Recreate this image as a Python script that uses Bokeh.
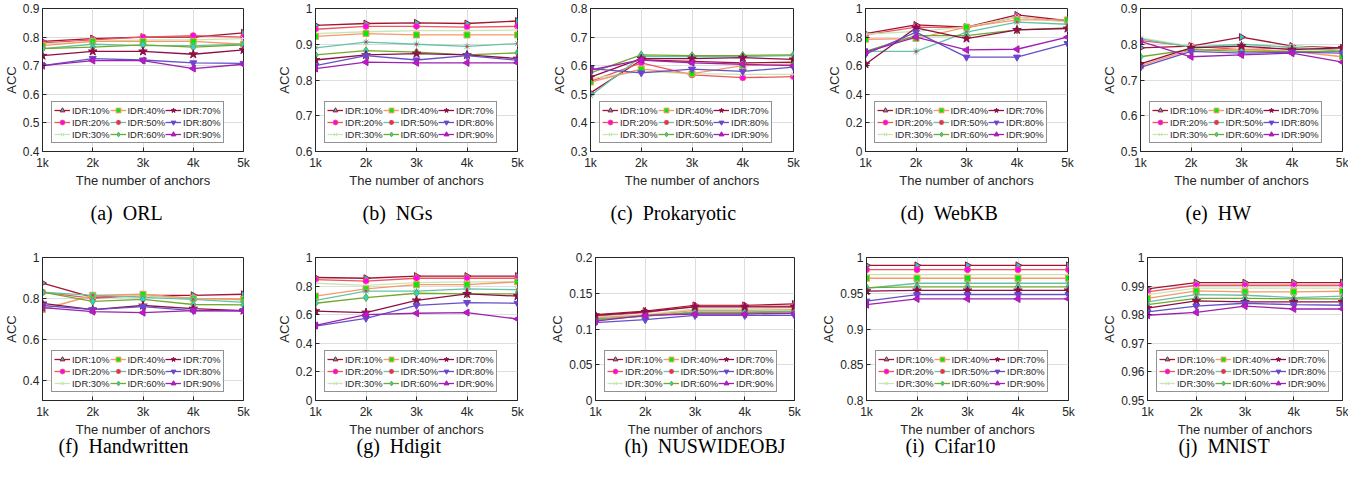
import math
from bokeh.plotting import figure
from bokeh.layouts import column, row
from bokeh.models import Range1d, FixedTicker, Legend, LegendItem, Title
from bokeh.embed import file_html
from bokeh.resources import INLINE

anchors = ["1k", "2k", "3k", "4k", "5k"]
idr_labels = ["IDR:10%", "IDR:20%", "IDR:30%", "IDR:40%", "IDR:50%",
              "IDR:60%", "IDR:70%", "IDR:80%", "IDR:90%"]

orl = [
    [0.785, 0.795, 0.800, 0.800, 0.815],
    [0.780, 0.790, 0.800, 0.805, 0.800],
    [0.775, 0.785, 0.790, 0.790, 0.795],
    [0.770, 0.785, 0.785, 0.785, 0.775],
    [0.760, 0.775, 0.770, 0.770, 0.775],
    [0.760, 0.765, 0.773, 0.765, 0.773],
    [0.735, 0.750, 0.750, 0.740, 0.755],
    [0.700, 0.725, 0.720, 0.710, 0.708],
    [0.700, 0.718, 0.718, 0.690, 0.705],
]
ngs = [
    [0.953, 0.958, 0.960, 0.958, 0.965],
    [0.942, 0.950, 0.950, 0.948, 0.950],
    [0.930, 0.935, 0.938, 0.938, 0.940],
    [0.922, 0.930, 0.926, 0.926, 0.926],
    [0.890, 0.906, 0.900, 0.894, 0.902],
    [0.870, 0.882, 0.878, 0.870, 0.876],
    [0.856, 0.870, 0.874, 0.870, 0.860],
    [0.840, 0.868, 0.856, 0.868, 0.855],
    [0.832, 0.850, 0.848, 0.848, 0.848],
]
prokaryotic = [
    [0.505, 0.620, 0.615, 0.610, 0.612],
    [0.545, 0.610, 0.568, 0.558, 0.562],
    [0.555, 0.580, 0.572, 0.570, 0.570],
    [0.543, 0.588, 0.572, 0.600, 0.605],
    [0.495, 0.632, 0.632, 0.632, 0.635],
    [0.575, 0.638, 0.635, 0.636, 0.638],
    [0.560, 0.625, 0.625, 0.628, 0.622],
    [0.590, 0.575, 0.588, 0.580, 0.595],
    [0.585, 0.620, 0.610, 0.605, 0.600],
]
webkb = [
    [0.825, 0.885, 0.870, 0.955, 0.915],
    [0.815, 0.870, 0.865, 0.940, 0.910],
    [0.820, 0.840, 0.870, 0.940, 0.905],
    [0.785, 0.790, 0.870, 0.920, 0.920],
    [0.700, 0.700, 0.835, 0.905, 0.890],
    [0.700, 0.810, 0.810, 0.850, 0.865],
    [0.610, 0.865, 0.790, 0.850, 0.860],
    [0.680, 0.835, 0.660, 0.660, 0.755],
    [0.695, 0.800, 0.710, 0.715, 0.800],
]
hw = [
    [0.790, 0.795, 0.820, 0.795, 0.790],
    [0.810, 0.795, 0.785, 0.790, 0.785],
    [0.818, 0.795, 0.790, 0.795, 0.785],
    [0.740, 0.785, 0.785, 0.780, 0.765],
    [0.815, 0.792, 0.800, 0.792, 0.780],
    [0.765, 0.785, 0.780, 0.780, 0.780],
    [0.745, 0.790, 0.795, 0.785, 0.790],
    [0.735, 0.780, 0.775, 0.778, 0.775],
    [0.808, 0.765, 0.770, 0.775, 0.750],
]
handwritten = [
    [0.875, 0.805, 0.815, 0.815, 0.820],
    [0.830, 0.800, 0.815, 0.800, 0.795],
    [0.750, 0.815, 0.815, 0.800, 0.790],
    [0.745, 0.815, 0.820, 0.800, 0.795],
    [0.830, 0.815, 0.805, 0.795, 0.780],
    [0.830, 0.785, 0.795, 0.770, 0.768],
    [0.775, 0.745, 0.765, 0.750, 0.740],
    [0.765, 0.745, 0.760, 0.740, 0.740],
    [0.755, 0.735, 0.730, 0.740, 0.738],
]
hdigit = [
    [0.860, 0.855, 0.870, 0.870, 0.870],
    [0.845, 0.835, 0.855, 0.855, 0.855],
    [0.820, 0.805, 0.825, 0.830, 0.830],
    [0.730, 0.780, 0.810, 0.810, 0.830],
    [0.700, 0.765, 0.765, 0.780, 0.775],
    [0.680, 0.720, 0.750, 0.745, 0.745],
    [0.625, 0.615, 0.700, 0.745, 0.730],
    [0.520, 0.575, 0.665, 0.685, 0.680],
    [0.525, 0.600, 0.610, 0.615, 0.570],
]
nuswideobj = [
    [0.120, 0.125, 0.133, 0.133, 0.135],
    [0.118, 0.123, 0.132, 0.132, 0.132],
    [0.117, 0.120, 0.128, 0.128, 0.130],
    [0.116, 0.119, 0.126, 0.126, 0.127],
    [0.114, 0.118, 0.124, 0.124, 0.125],
    [0.113, 0.118, 0.123, 0.123, 0.124],
    [0.119, 0.124, 0.131, 0.131, 0.131],
    [0.109, 0.113, 0.119, 0.119, 0.119],
    [0.111, 0.119, 0.121, 0.121, 0.122],
]
cifar10 = [
    [0.989, 0.989, 0.989, 0.989, 0.989],
    [0.983, 0.983, 0.983, 0.983, 0.983],
    [0.976, 0.976, 0.976, 0.976, 0.976],
    [0.971, 0.971, 0.971, 0.971, 0.971],
    [0.957, 0.964, 0.964, 0.964, 0.964],
    [0.958, 0.959, 0.959, 0.959, 0.959],
    [0.953, 0.954, 0.954, 0.954, 0.954],
    [0.939, 0.948, 0.948, 0.948, 0.948],
    [0.934, 0.942, 0.942, 0.942, 0.942],
]
mnist = [
    [0.9890, 0.9912, 0.9912, 0.9912, 0.9912],
    [0.9880, 0.9903, 0.9903, 0.9903, 0.9903],
    [0.9870, 0.9893, 0.9893, 0.9893, 0.9893],
    [0.9857, 0.9883, 0.9880, 0.9880, 0.9882],
    [0.9845, 0.9870, 0.9868, 0.9860, 0.9865],
    [0.9835, 0.9857, 0.9857, 0.9855, 0.9855],
    [0.9823, 0.9848, 0.9845, 0.9845, 0.9845],
    [0.9810, 0.9830, 0.9840, 0.9835, 0.9833],
    [0.9798, 0.9808, 0.9830, 0.9820, 0.9820],
]

captions = ["(a)\u2002ORL", "(b)\u2002NGs", "(c)\u2002Prokaryotic", "(d)\u2002WebKB", "(e)\u2002HW",
            "(f)\u2002Handwritten", "(g)\u2002Hdigit", "(h)\u2002NUSWIDEOBJ", "(i)\u2002Cifar10", "(j)\u2002MNIST"]
datasets = [orl, ngs, prokaryotic, webkb, hw, handwritten, hdigit, nuswideobj, cifar10, mnist]
y_limits = [(0.4, 0.9), (0.6, 1.0), (0.3, 0.8), (0.0, 1.0), (0.5, 0.9),
            (0.3, 1.0), (0.0, 1.0), (0.0, 0.2), (0.8, 1.0), (0.95, 1.0)]
y_tick_labels = [
    ["0.4", "0.5", "0.6", "0.7", "0.8", "0.9"],
    ["0.6", "0.7", "0.8", "0.9", "1"],
    ["0.3", "0.4", "0.5", "0.6", "0.7", "0.8"],
    ["0", "0.2", "0.4", "0.6", "0.8", "1"],
    ["0.5", "0.6", "0.7", "0.8", "0.9"],
    ["0.4", "0.6", "0.8", "1"],
    ["0", "0.2", "0.4", "0.6", "0.8", "1"],
    ["0", "0.05", "0.1", "0.15", "0.2"],
    ["0.8", "0.85", "0.9", "0.95", "1"],
    ["0.95", "0.96", "0.97", "0.98", "0.99", "1"],
]

# geometry: (width, border_left, border_right, caption_offset)
geom_row1 = [(268, 41, 25, 48), (270, 47, 21, 47), (270, 52, 15, 20), (270, 57, 11, 35), (270, 62, 6, 45)]
geom_row2 = [(268, 41, 25, 16), (270, 47, 21, 41), (270, 57, 14, 29), (270, 58, 10, 39), (270, 69, 6, 31)]

styles = [
    dict(color="#A2142F", marker="triangle", angle=-math.pi / 2, fill="#22C8D8", size=7),
    dict(color="#EE5560", marker="circle", angle=0, fill="#FF00FF", size=6),
    dict(color="#C8E6B4", marker="x", angle=0, fill=None, size=6),
    dict(color="#F7976A", marker="square", angle=0, fill="#00EE00", size=6),
    dict(color="#66C2A5", marker="asterisk", angle=0, fill=None, size=7, dot="#E8334A"),
    dict(color="#6FAA2A", marker="diamond", angle=0, fill="#22D8E0", size=8),
    dict(color="#8E0F45", marker="star", angle=0, fill="#8E0F45", size=9),
    dict(color="#6550C8", marker="inverted_triangle", angle=0, fill="#7A3CD8", size=7),
    dict(color="#9C22B0", marker="triangle", angle=math.pi / 2, fill="#CC10CC", size=7),
]

INK = "#262626"
xs = list(range(1, len(anchors) + 1))


def make_panel(k, geom, height, b_top, b_bottom, cap_standoff):
    width, bl, br, cap_off = geom
    lo, hi = y_limits[k]
    p = figure(width=width, height=height, x_range=Range1d(1, 5), y_range=Range1d(lo, hi),
               output_backend="svg", toolbar_location=None,
               min_border_left=bl, min_border_right=br,
               min_border_top=b_top, min_border_bottom=b_bottom)
    p.outline_line_color = INK
    p.outline_line_alpha = 1
    p.background_fill_color = "white"
    p.grid.grid_line_color = "#DEDEDE"
    p.grid.grid_line_width = 1
    p.xaxis.ticker = FixedTicker(ticks=xs)
    p.xaxis.major_label_overrides = {x: a for x, a in zip(xs, anchors)}
    yt = [float(s) for s in y_tick_labels[k]]
    p.yaxis.ticker = FixedTicker(ticks=yt)
    p.yaxis.major_label_overrides = {v: s for v, s in zip(yt, y_tick_labels[k])}
    p.xaxis.axis_label = "The number of anchors"
    p.yaxis.axis_label = "ACC"
    for ax in (p.xaxis, p.yaxis):
        ax.axis_line_color = INK
        ax.major_tick_in = 4
        ax.major_tick_out = 0
        ax.major_tick_line_color = INK
        ax.minor_tick_line_color = None
        ax.major_label_text_font = "Liberation Sans"
        ax.major_label_text_font_size = "12px"
        ax.major_label_text_color = INK
        ax.major_label_standoff = 4
        ax.axis_label_text_font = "Liberation Sans"
        ax.axis_label_text_font_size = "13px"
        ax.axis_label_text_font_style = "normal"
        ax.axis_label_text_color = INK
        ax.axis_label_standoff = 0
    p.yaxis.major_label_standoff = 3
    p.yaxis.axis_label_standoff = 1

    items = []
    for i, series in enumerate(datasets[k]):
        st = styles[i]
        rs = []
        rs.append(p.line(xs, series, line_color=st["color"], line_width=1.3))
        sc = p.scatter(xs, series, marker=st["marker"], angle=st["angle"], size=st["size"],
                       line_color=st["color"], line_width=1,
                       fill_color=st["fill"] if st["fill"] else None)
        rs.append(sc)
        if st.get("dot"):
            rs.append(p.scatter(xs, series, marker="circle", size=2.5,
                                line_color=None, fill_color=st["dot"]))
        items.append(LegendItem(label=idr_labels[i], renderers=rs))

    leg = Legend(items=items, location=(9, 8), orientation="vertical", nrows=3,
                 label_text_font="Liberation Sans", label_text_font_size="9.4px",
                 label_text_color=INK,
                 glyph_width=16, glyph_height=12, label_height=12, label_standoff=2,
                 spacing=0, padding=2, margin=0,
                 border_line_color=INK, border_line_width=1,
                 background_fill_color="white", background_fill_alpha=1)
    p.add_layout(leg)

    t = Title(text=captions[k], align="left", offset=cap_off,
              text_font="Liberation Serif", text_font_size="20px",
              text_font_style="normal", text_color="black", standoff=cap_standoff)
    p.add_layout(t, "below")
    return p


row1 = [make_panel(k, geom_row1[k], 246, 8, 95, 18) for k in range(5)]
row2 = [make_panel(k + 5, geom_row2[k], 222, 11, 68, -14) for k in range(5)]

layout = column(row(*row1), row(*row2))
open("out.html", "w").write(file_html(layout, INLINE))
